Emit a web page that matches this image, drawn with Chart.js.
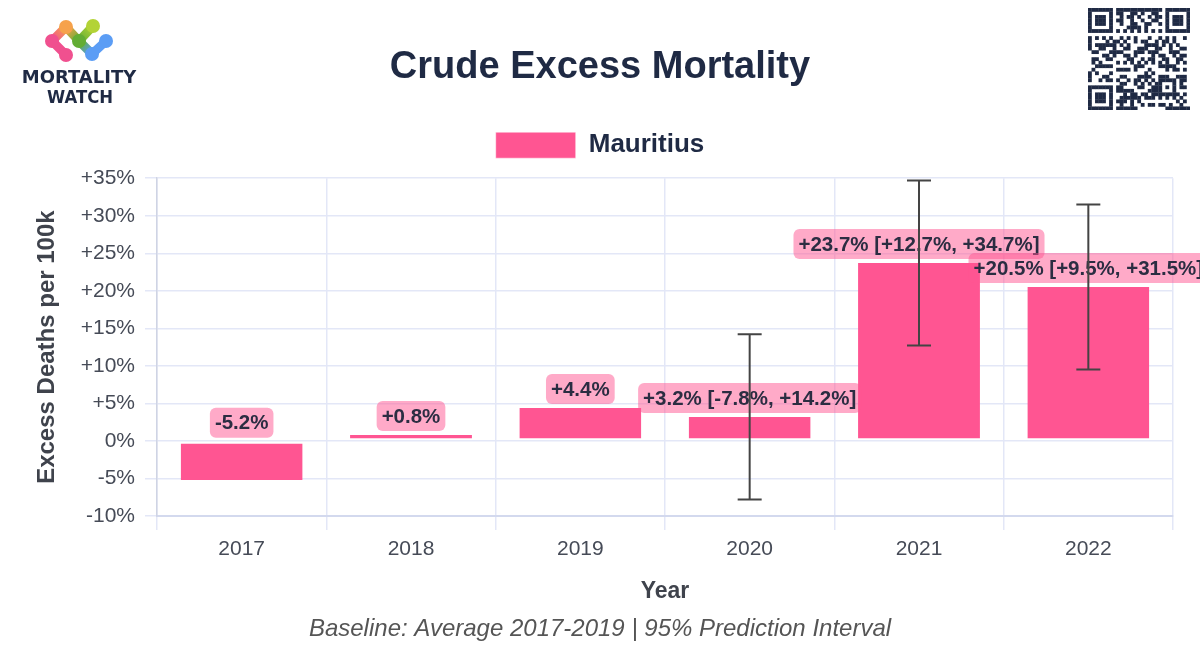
<!DOCTYPE html>
<html>
<head>
<meta charset="utf-8">
<script src="https://cdn.jsdelivr.net/npm/chart.js@4.4.1/dist/chart.umd.min.js"></script>
<style>
html,body{margin:0;padding:0;background:#ffffff;}
#wrap{position:relative;width:1200px;height:670px;overflow:hidden;}
#chart{position:absolute;left:0;top:0;}
#logo{position:absolute;left:0;top:0;}
#qr{position:absolute;left:1088px;top:8px;}
</style>
</head>
<body>
<div id="wrap">
  <canvas id="chart" width="1200" height="670"></canvas>
  <canvas id="logo" width="160" height="115"></canvas>
  <canvas id="qr" width="102" height="102"></canvas>
</div>
<script>
// ---------- data ----------
const titleText = 'Crude Excess Mortality';
const seriesName = 'Mauritius';
const years = ['2017', '2018', '2019', '2020', '2021', '2022'];
const excess = [-5.2, 0.8, 4.4, 3.2, 23.7, 20.5];
const lowerPI = [null, null, null, -7.8, 12.7, 9.5];
const upperPI = [null, null, null, 14.2, 34.7, 31.5];
const yMin = -10;
const yMax = 35;
const yStep = 5;
const yTitle = 'Excess Deaths per 100k';
const xTitle = 'Year';
const noteText = 'Baseline: Average 2017-2019 | 95% Prediction Interval';

// ---------- styles ----------
const FONT = "'Liberation Sans', Arial, Helvetica, sans-serif";
const barColor = '#ff5592';
const labelBg = 'rgba(255, 85, 146, 0.5)';
const labelColor = '#2b2d42';
const gridColor = '#e3e7f7';
const tickColor = '#464b57';
const axisTitleColor = '#3f434c';
const navy = '#1f2a44';

function pct(v) {
  if (v > 0) return '+' + v.toFixed(1) + '%';
  if (v === 0) return '0%';
  return v.toFixed(1) + '%';
}
function tickFmt(v) {
  return (v > 0 ? '+' : '') + v + '%';
}
function labelText(i) {
  let s = pct(excess[i]);
  if (lowerPI[i] !== null && upperPI[i] !== null) {
    s += ' [' + pct(lowerPI[i]) + ', ' + pct(upperPI[i]) + ']';
  }
  return s;
}

const labelPlugin = {
  id: 'barLabelsAndErrors',
  afterDatasetsDraw(chart) {
    const ctx = chart.ctx;
    const meta = chart.getDatasetMeta(0);
    const ys = chart.scales.y;
    ctx.save();
    ctx.font = 'bold 20.5px ' + FONT;
    ctx.textAlign = 'center';
    ctx.textBaseline = 'middle';
    meta.data.forEach((bar, i) => {
      const txt = labelText(i);
      const w = ctx.measureText(txt).width + 10;
      const h = 30;
      const bottom = Math.min(bar.y, bar.base) - 4;
      const top = bottom - h;
      ctx.fillStyle = labelBg;
      ctx.beginPath();
      ctx.roundRect(bar.x - w / 2, top, w, h, 6);
      ctx.fill();
      ctx.fillStyle = labelColor;
      ctx.fillText(txt, bar.x, top + h / 2 + 1);
    });
    ctx.strokeStyle = '#444444';
    ctx.lineWidth = 2;
    meta.data.forEach((bar, i) => {
      if (lowerPI[i] === null || upperPI[i] === null) return;
      const y1 = ys.getPixelForValue(lowerPI[i]);
      const y2 = ys.getPixelForValue(upperPI[i]);
      ctx.beginPath();
      ctx.moveTo(bar.x, y1); ctx.lineTo(bar.x, y2);
      ctx.moveTo(bar.x - 12, y1); ctx.lineTo(bar.x + 12, y1);
      ctx.moveTo(bar.x - 12, y2); ctx.lineTo(bar.x + 12, y2);
      ctx.stroke();
    });
    ctx.restore();
  }
};

new Chart(document.getElementById('chart').getContext('2d'), {
  type: 'bar',
  data: {
    labels: years,
    datasets: [{
      label: seriesName,
      data: excess,
      xAxisID: 'x',
      yAxisID: 'y',
      backgroundColor: barColor,
      borderColor: '#ffffff',
      borderSkipped: false,
      borderWidth: (c) => {
        if (c.type !== 'data') return 0;
        return c.raw >= 0 ? {bottom: 2} : {top: 2};
      }
    }]
  },
  options: {
    responsive: false,
    animation: false,
    devicePixelRatio: 1,
    layout: {padding: {left: 0, right: 0, top: 10, bottom: 0}},
    plugins: {
      title: {
        display: true, text: titleText, color: navy,
        font: {family: FONT, size: 38, weight: 'bold'},
        padding: {top: 34.8, bottom: 31.8}
      },
      legend: {
        display: true,
        labels: {
          boxWidth: 80, boxHeight: 26, padding: 10, color: navy,
          font: {family: FONT, size: 26, weight: 'bold'}
        }
      },
      subtitle: {
        display: true, position: 'bottom', text: noteText, color: '#555555',
        font: {family: FONT, size: 24, style: 'italic', weight: 'normal'},
        padding: {top: 0, bottom: 26.6}
      },
      tooltip: {enabled: false}
    },
    scales: {
      x: {
        type: 'category',
        position: 'bottom',
        grid: {display: true, color: gridColor, lineWidth: 1.5, tickLength: 14, offset: true},
        border: {display: true, color: '#d3d9ee', width: 2},
        ticks: {color: tickColor, font: {family: FONT, size: 21}, padding: 7},
        title: {
          display: true, text: xTitle, color: axisTitleColor,
          font: {family: FONT, size: 23, weight: 'bold'},
          padding: {top: 0, bottom: 8.8}
        },
        afterFit(s) { s.height = 98.6; }
      },
      xTop: {
        type: 'category',
        position: 'top',
        display: true,
        grid: {display: false, drawTicks: false},
        border: {display: false},
        ticks: {display: false},
        afterFit(s) { s.height = 10; }
      },
      y: {
        type: 'linear',
        position: 'left',
        min: yMin, max: yMax,
        ticks: {
          stepSize: yStep, color: tickColor, font: {family: FONT, size: 21}, padding: 10,
          callback: (v) => tickFmt(v)
        },
        grid: {color: gridColor, lineWidth: 1.5, tickLength: 12},
        border: {display: true, color: '#cfd4e4', width: 1.5},
        title: {
          display: true, text: yTitle, color: axisTitleColor,
          font: {family: FONT, size: 24, weight: 'bold'},
          padding: {top: 33.1, bottom: 0}
        },
        afterFit(s) { s.width = 157; }
      },
      yRight: {
        type: 'linear',
        position: 'right',
        display: true,
        grid: {display: false, drawTicks: false},
        border: {display: false},
        ticks: {display: false},
        afterFit(s) { s.width = 27; }
      }
    }
  },
  plugins: [labelPlugin]
});

// ---------- logo ----------
(function drawLogo() {
  const c = document.getElementById('logo').getContext('2d');
  const N = {
    p1: [52, 41, '#f0508f'], o: [66, 27, '#f6a24b'], g: [79, 41, '#63ad34'],
    yg: [93, 26, '#b3d336'], b1: [92, 54, '#5b9df5'], b2: [106, 41, '#5b9df5'], p2: [66, 55, '#f0508f']
  };
  const links = [['p1', 'o'], ['p1', 'p2'], ['o', 'g'], ['g', 'yg'], ['g', 'b1'], ['b1', 'b2']];
  c.lineCap = 'round';
  c.lineWidth = 9;
  links.forEach(([a, b]) => {
    const A = N[a], B = N[b];
    const gr = c.createLinearGradient(A[0], A[1], B[0], B[1]);
    gr.addColorStop(0, A[2]); gr.addColorStop(1, B[2]);
    c.strokeStyle = gr;
    c.beginPath(); c.moveTo(A[0], A[1]); c.lineTo(B[0], B[1]); c.stroke();
  });
  Object.values(N).forEach(([x, y, col]) => {
    c.fillStyle = col;
    c.beginPath(); c.arc(x, y, 7, 0, Math.PI * 2); c.fill();
  });
  c.fillStyle = navy;
  c.textAlign = 'center';
  c.textBaseline = 'alphabetic';
  c.font = "bold 18px 'DejaVu Sans', sans-serif";
  c.fillText('MORTALITY', 79, 83, 118);
  c.fillText('WATCH', 80, 103, 66);
})();

// ---------- QR-like badge (decorative) ----------
(function drawQR() {
  const c = document.getElementById('qr').getContext('2d');
  const n = 29, s = 102 / n;
  const dark = (x, y) => {
    const inFinder = (fx, fy) => x >= fx && x < fx + 7 && y >= fy && y < fy + 7;
    const finder = (fx, fy) => {
      const dx = x - fx, dy = y - fy;
      const m = Math.max(Math.abs(dx - 3), Math.abs(dy - 3));
      return m !== 2;
    };
    if (inFinder(0, 0)) return finder(0, 0);
    if (inFinder(n - 7, 0)) return finder(n - 7, 0);
    if (inFinder(0, n - 7)) return finder(0, n - 7);
    if ((x < 8 && y < 8) || (x > n - 9 && y < 8) || (x < 8 && y > n - 9)) return false;
    if (x >= 20 && x <= 24 && y >= 20 && y <= 24) {
      const m = Math.max(Math.abs(x - 22), Math.abs(y - 22));
      return m !== 1;
    }
    if (y === 6) return x % 2 === 0;
    if (x === 6) return y % 2 === 0;
    const h = ((x * 37 + y * 91 + x * y * 13 + (x ^ y) * 7) % 11);
    return h < 5;
  };
  c.fillStyle = navy;
  for (let y = 0; y < n; y++) {
    for (let x = 0; x < n; x++) {
      if (dark(x, y)) c.fillRect(x * s, y * s, s + 0.3, s + 0.3);
    }
  }
})();
</script>
</body>
</html>
